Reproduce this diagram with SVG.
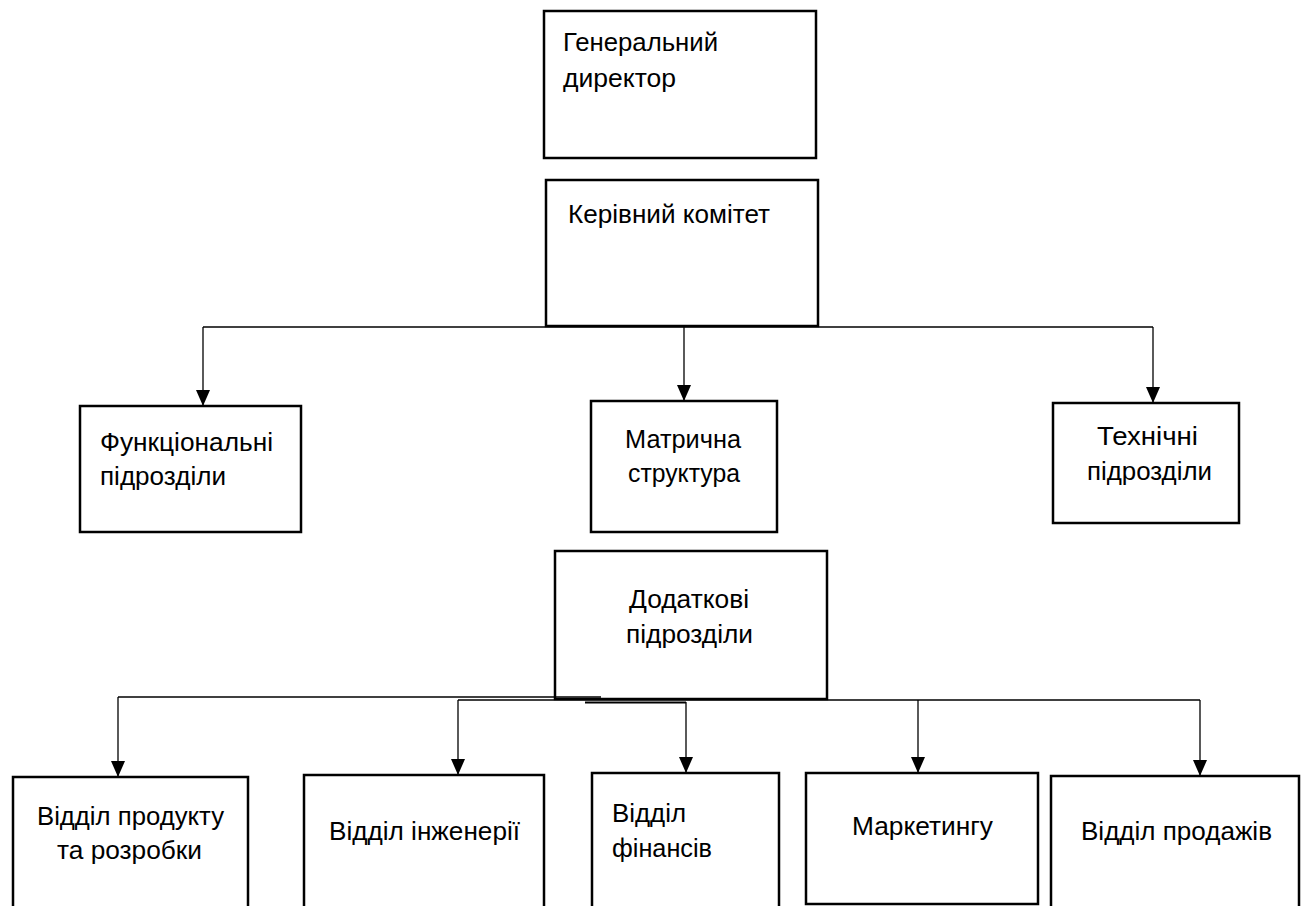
<svg xmlns="http://www.w3.org/2000/svg" width="1308" height="906" viewBox="0 0 1308 906">
<style>
.box{fill:#fff;stroke:#000;stroke-width:2.5}
.t{font-family:"Liberation Sans",Arial,sans-serif;font-size:25px;fill:#000}
.c{fill:none;stroke:#000;stroke-width:1.3}
</style>
<defs>
<marker id="ah" markerUnits="userSpaceOnUse" viewBox="0 0 16 14" refX="16" refY="7" markerWidth="16" markerHeight="14" orient="auto">
<path d="M0,0 L16,7 L0,14 z" fill="#000"/>
</marker>
</defs>
<rect width="1308" height="906" fill="#fff"/>
<g id="gen-director">
<rect class="box" x="544" y="11" width="272" height="147"/>
<text class="t" x="563" y="51" textLength="155" lengthAdjust="spacingAndGlyphs">Генеральний</text>
<text class="t" x="563" y="87" textLength="113" lengthAdjust="spacingAndGlyphs">директор</text>
</g>
<g id="steering">
<rect class="box" x="546" y="180" width="272" height="146"/>
<text class="t" x="568" y="223" textLength="202" lengthAdjust="spacingAndGlyphs">Керівний комітет</text>
</g>
<g id="functional">
<rect class="box" x="80" y="406" width="221" height="126"/>
<text class="t" x="100" y="451" textLength="173" lengthAdjust="spacingAndGlyphs">Функціональні</text>
<text class="t" x="100" y="485" textLength="126" lengthAdjust="spacingAndGlyphs">підрозділи</text>
</g>
<g id="matrix">
<rect class="box" x="591" y="401" width="186" height="131"/>
<text class="t" x="625" y="448" textLength="116" lengthAdjust="spacingAndGlyphs">Матрична</text>
<text class="t" x="628" y="482" textLength="112" lengthAdjust="spacingAndGlyphs">структура</text>
</g>
<g id="technical">
<rect class="box" x="1053" y="403" width="186" height="120"/>
<text class="t" x="1097" y="445" textLength="101" lengthAdjust="spacingAndGlyphs">Технічні</text>
<text class="t" x="1087" y="480" textLength="125" lengthAdjust="spacingAndGlyphs">підрозділи</text>
</g>
<g id="additional">
<rect class="box" x="555" y="551" width="272" height="148"/>
<text class="t" x="629" y="608" textLength="120" lengthAdjust="spacingAndGlyphs">Додаткові</text>
<text class="t" x="626" y="643" textLength="127" lengthAdjust="spacingAndGlyphs">підрозділи</text>
</g>
<g id="product">
<rect class="box" x="13" y="777" width="235" height="150"/>
<text class="t" x="37" y="825" textLength="187" lengthAdjust="spacingAndGlyphs">Відділ продукту</text>
<text class="t" x="57" y="859" textLength="145" lengthAdjust="spacingAndGlyphs">та розробки</text>
</g>
<g id="engineering">
<rect class="box" x="304" y="775" width="240" height="150"/>
<text class="t" x="329" y="840" textLength="191" lengthAdjust="spacingAndGlyphs">Відділ інженерії</text>
</g>
<g id="finance">
<rect class="box" x="592" y="773" width="187" height="150"/>
<text class="t" x="612" y="822" textLength="74" lengthAdjust="spacingAndGlyphs">Відділ</text>
<text class="t" x="612" y="857" textLength="100" lengthAdjust="spacingAndGlyphs">фінансів</text>
</g>
<g id="marketing">
<rect class="box" x="806" y="773" width="232" height="131"/>
<text class="t" x="852" y="835" textLength="141" lengthAdjust="spacingAndGlyphs">Маркетингу</text>
</g>
<g id="sales">
<rect class="box" x="1051" y="776" width="248" height="150"/>
<text class="t" x="1081" y="840" textLength="191" lengthAdjust="spacingAndGlyphs">Відділ продажів</text>
</g>
<g id="connectors">
<path class="c" d="M203,327 H1153"/>
<path class="c" d="M203,327 V406" marker-end="url(#ah)"/>
<path class="c" d="M684,327 V401" marker-end="url(#ah)"/>
<path class="c" d="M1153,327 V403" marker-end="url(#ah)"/>
<path class="c" d="M118,697 H601"/>
<path class="c" d="M458,700 H1200"/>
<path class="c" d="M585,702.5 H686" style="stroke-width:2.2"/>
<path class="c" d="M118,697 V777" marker-end="url(#ah)"/>
<path class="c" d="M458,700 V775" marker-end="url(#ah)"/>
<path class="c" d="M686,702 V773" marker-end="url(#ah)"/>
<path class="c" d="M918,700 V773" marker-end="url(#ah)"/>
<path class="c" d="M1200,700 V776" marker-end="url(#ah)"/>
</g>
</svg>
